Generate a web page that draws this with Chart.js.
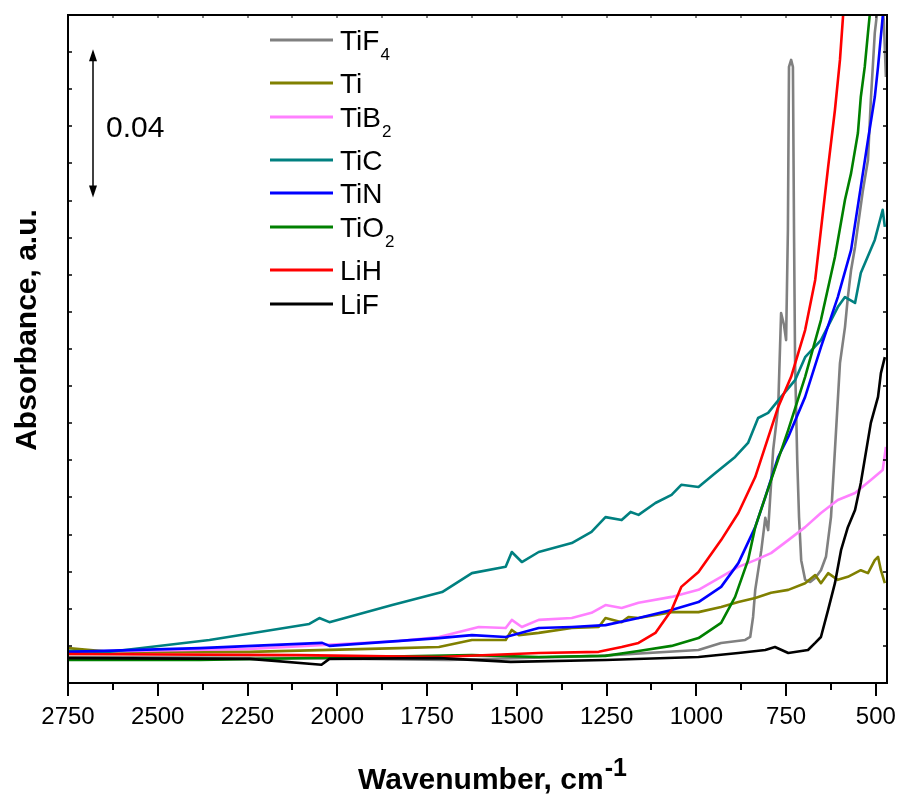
<!DOCTYPE html>
<html><head><meta charset="utf-8">
<script src="https://cdn.jsdelivr.net/npm/chart.js@4.4.1/dist/chart.umd.min.js"></script>
<style>html,body{margin:0;padding:0;background:#fff;}#wrap{width:901px;height:798px;position:relative;}canvas{display:block;}</style>
</head><body><div id="wrap"><canvas id="c" width="901" height="798"></canvas></div>
<script>
// ---- data ----
const seriesNames = ['TiF4','Ti','TiB2','TiC','TiN','TiO2','LiH','LiF'];
const legendMain = ['TiF','Ti','TiB','TiC','TiN','TiO','LiH','LiF'];
const legendSub  = ['4','','2','','','2','',''];
const xTickValues = [2750,2500,2250,2000,1750,1500,1250,1000,750,500];

const tif4Wn  = [2750,2106,1689,1272,994,931,864,850,842,836,819,808,800,786,772,764,756,750,745,742,736,731,728,725,719,714,708,697,683,669,653,639,625,614,600,586,578,569,558,536,522,514,503,494,486,478,472];
const tif4Abs = [0.0070,0.0067,0.0062,0.0073,0.0089,0.0108,0.0116,0.0124,0.0178,0.0251,0.0358,0.0445,0.0412,0.0628,0.0744,0.0997,0.0965,0.0924,0.1221,0.1660,0.1679,0.1660,0.1221,0.0862,0.0601,0.0447,0.0331,0.0278,0.0272,0.0283,0.0304,0.0340,0.0447,0.0628,0.0862,0.0959,0.1040,0.1113,0.1175,0.1328,0.1409,0.1571,0.1752,0.1827,0.1854,0.1787,0.1633];

const tiWn  = [2750,2633,2244,1828,1717,1625,1531,1514,1494,1439,1347,1272,1253,1208,1189,1161,1069,994,931,883,836,792,744,697,669,653,633,606,578,542,522,503,494,486,475];
const tiAbs = [0.0094,0.0084,0.0084,0.0094,0.0097,0.0116,0.0116,0.0143,0.0129,0.0135,0.0148,0.0151,0.0175,0.0164,0.0178,0.0175,0.0191,0.0191,0.0205,0.0218,0.0229,0.0243,0.0251,0.0269,0.0291,0.0269,0.0296,0.0278,0.0286,0.0304,0.0296,0.0331,0.0340,0.0304,0.0269];

const tib2Wn  = [2750,2244,1828,1717,1606,1531,1514,1486,1439,1347,1292,1253,1208,1161,1069,994,931,883,836,792,744,697,653,606,558,514,481,472];
const tib2Abs = [0.0084,0.0092,0.0113,0.0124,0.0151,0.0148,0.0170,0.0151,0.0170,0.0175,0.0189,0.0210,0.0202,0.0216,0.0232,0.0251,0.0286,0.0313,0.0331,0.0350,0.0385,0.0420,0.0458,0.0493,0.0512,0.0547,0.0574,0.0636];

const ticWn  = [2750,2633,2356,2078,2050,2022,1847,1708,1625,1531,1514,1486,1439,1347,1292,1253,1208,1183,1161,1114,1069,1042,994,947,892,856,828,800,764,725,697,653,606,586,558,542,503,481,475];
const ticAbs = [0.0086,0.0084,0.0116,0.0159,0.0175,0.0164,0.0210,0.0245,0.0296,0.0313,0.0353,0.0326,0.0353,0.0377,0.0407,0.0447,0.0439,0.0461,0.0453,0.0485,0.0507,0.0534,0.0528,0.0566,0.0609,0.0647,0.0714,0.0728,0.0771,0.0816,0.0878,0.0924,0.1013,0.1040,0.1024,0.1105,0.1194,0.1275,0.1229];

const tinWn  = [2750,2383,2042,2022,1717,1625,1531,1439,1347,1253,1161,1069,994,931,883,836,808,772,744,697,653,606,569,542,522,503,494,481,475];
const tinAbs = [0.0084,0.0094,0.0108,0.0100,0.0121,0.0129,0.0124,0.0148,0.0151,0.0156,0.0175,0.0197,0.0218,0.0259,0.0323,0.0420,0.0501,0.0609,0.0663,0.0771,0.0905,0.1040,0.1167,0.1337,0.1463,0.1579,0.1660,0.1795,0.1830];

const tio2Wn  = [2750,2383,1625,1439,1253,1161,1069,994,931,892,856,836,808,744,697,653,614,586,569,550,542,531,522,514];
const tio2Abs = [0.0062,0.0062,0.0075,0.0070,0.0073,0.0086,0.0100,0.0121,0.0162,0.0232,0.0331,0.0420,0.0501,0.0682,0.0825,0.0978,0.1148,0.1302,0.1374,0.1482,0.1579,0.1660,0.1752,0.1830];

const lihWn  = [2750,2106,1717,1439,1272,1208,1161,1114,1069,1042,994,931,883,836,772,736,697,669,653,633,614,600,589];
const lihAbs = [0.0078,0.0075,0.0070,0.0081,0.0084,0.0097,0.0108,0.0135,0.0197,0.0259,0.0299,0.0385,0.0458,0.0555,0.0744,0.0825,0.0951,0.1086,0.1221,0.1390,0.1544,0.1679,0.1830];

const lifWn  = [2750,2244,2044,2022,1717,1517,1253,994,883,808,781,744,689,669,653,633,614,597,578,558,542,514,494,486,475];
const lifAbs = [0.0067,0.0065,0.0049,0.0065,0.0067,0.0057,0.0062,0.0070,0.0081,0.0089,0.0097,0.0081,0.0089,0.0108,0.0124,0.0197,0.0269,0.0358,0.0420,0.0466,0.0539,0.0701,0.0771,0.0835,0.0878];

// ---- styles ----
const seriesColors = ['#808080','#808000','#FF80FF','#008080','#0000FF','#008000','#FF0000','#000000'];
const allWn  = [tif4Wn,tiWn,tib2Wn,ticWn,tinWn,tio2Wn,lihWn,lifWn];
const allAbs = [tif4Abs,tiAbs,tib2Abs,ticAbs,tinAbs,tio2Abs,lihAbs,lifAbs];
const FONT = '"Liberation Sans", Arial, Helvetica, sans-serif';

const datasets = seriesNames.map((n,i)=>({
  label:n,
  data: allWn[i].map((w,k)=>({x:w,y:allAbs[i][k]})),
  borderColor: seriesColors[i],
  backgroundColor: seriesColors[i],
  borderWidth: 2.6,
  borderJoinStyle:'round',
  pointRadius:0,
  tension:0,
  fill:false,
  order: seriesNames.length - i
}));

const legendRowsY = [40,83,117,160,193,227,270,304];

const decor = {
  id:'decor',
  afterDraw(chart){
    const ctx = chart.ctx, a = chart.chartArea, xs = chart.scales.x, ys = chart.scales.y;
    ctx.save();
    ctx.strokeStyle='#000'; ctx.fillStyle='#000';
    // frame
    ctx.lineWidth=2;
    ctx.strokeRect(a.left, a.top, a.right-a.left, a.bottom-a.top);
    // bottom ticks (outward) and top ticks (inward)
    for(let v=2750; v>=500; v-=125){
      const px = Math.round(xs.getPixelForValue(v));
      const major = (v % 250)===0;
      ctx.lineWidth=2;
      ctx.beginPath(); ctx.moveTo(px,a.bottom); ctx.lineTo(px,a.bottom+(major?13:7)); ctx.stroke();
      ctx.lineWidth=1;
      ctx.beginPath(); ctx.moveTo(px,a.top); ctx.lineTo(px,a.top+3); ctx.stroke();
    }
    // left / right minor ticks every 0.01
    ctx.lineWidth=1.5;
    for(let k=1;k<18;k++){
      const py = Math.round(ys.getPixelForValue(k*0.01));
      ctx.beginPath(); ctx.moveTo(a.left,py); ctx.lineTo(a.left+4,py); ctx.stroke();
      ctx.beginPath(); ctx.moveTo(a.right,py); ctx.lineTo(a.right-4,py); ctx.stroke();
    }
    // scale arrow 0.04
    const ax = 93;
    const yTop = ys.getPixelForValue(0.1708), yBot = ys.getPixelForValue(0.1708-0.04);
    ctx.lineWidth=1.5;
    ctx.beginPath(); ctx.moveTo(ax,yTop+8); ctx.lineTo(ax,yBot-8); ctx.stroke();
    ctx.beginPath(); ctx.moveTo(ax,yTop); ctx.lineTo(ax-4,yTop+12); ctx.lineTo(ax+4,yTop+12); ctx.closePath(); ctx.fill();
    ctx.beginPath(); ctx.moveTo(ax,yBot); ctx.lineTo(ax-4,yBot-12); ctx.lineTo(ax+4,yBot-12); ctx.closePath(); ctx.fill();
    ctx.font = '30px '+FONT; ctx.textAlign='left'; ctx.textBaseline='alphabetic';
    ctx.fillText('0.04', 106, 137);
    // legend
    for(let i=0;i<legendMain.length;i++){
      const y = legendRowsY[i];
      ctx.strokeStyle = seriesColors[i]; ctx.lineWidth=3;
      ctx.beginPath(); ctx.moveTo(270,y); ctx.lineTo(333,y); ctx.stroke();
      ctx.fillStyle='#000';
      ctx.font = '28px '+FONT;
      ctx.fillText(legendMain[i], 340, y+10);
      if(legendSub[i]){
        const w = ctx.measureText(legendMain[i]).width;
        ctx.font = '17px '+FONT;
        ctx.fillText(legendSub[i], 340+w+1, y+20);
      }
    }
    // axis titles
    ctx.fillStyle='#000';
    ctx.font = 'bold 30px '+FONT;
    ctx.textAlign='left'; ctx.textBaseline='alphabetic';
    const t1 = 'Wavenumber, cm';
    ctx.fillText(t1, 358, 789);
    const w1 = ctx.measureText(t1).width;
    ctx.font = 'bold 25px '+FONT;
    ctx.fillText('-1', 358+w1+1, 776);
    ctx.save();
    ctx.translate(36, 330); ctx.rotate(-Math.PI/2);
    ctx.font = 'bold 30px '+FONT; ctx.textAlign='center';
    ctx.fillText('Absorbance, a.u.', 0, 0);
    ctx.restore();
    ctx.restore();
  }
};

new Chart(document.getElementById('c'), {
  type:'line',
  data:{datasets},
  options:{
    responsive:false, animation:false, devicePixelRatio:1,
    layout:{padding:{left:68,right:14,top:15,bottom:0}},
    plugins:{legend:{display:false}, tooltip:{enabled:false}},
    scales:{
      x:{type:'linear', reverse:true, min:469, max:2750,
         afterBuildTicks:(s)=>{ s.ticks = xTickValues.map(v=>({value:v})); },
         afterFit:(s)=>{ s.height = 115; s.paddingLeft = 0; s.paddingRight = 0; },
         grid:{display:false, drawTicks:false}, border:{display:false},
         ticks:{font:{family:FONT,size:24}, color:'#000', padding:20, maxRotation:0, autoSkip:false,
                callback:(v)=>String(v)}},
      y:{display:false, min:0, max:0.18}
    }
  },
  plugins:[decor]
});
</script></body></html>
